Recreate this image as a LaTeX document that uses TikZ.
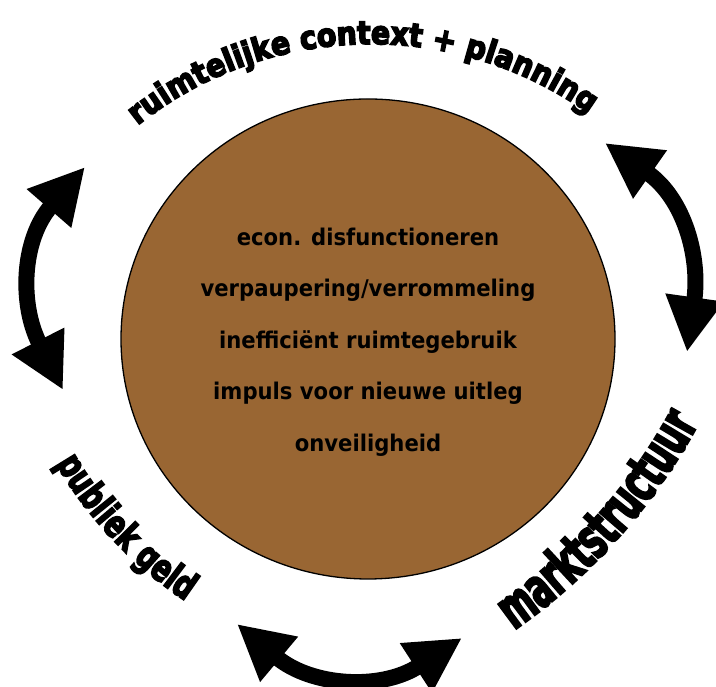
\documentclass[tikz,border=0pt]{standalone}
\usepackage{fontspec}
\usetikzlibrary{arrows.meta, calc, decorations.text, shapes.geometric}

\newfontfamily\innerfont[FakeStretch=0.92]{DejaVu Sans Bold}
\newfontfamily\topfont[FakeStretch=0.88, FakeBold=5]{DejaVu Sans Bold}
\newfontfamily\marktfont[FakeStretch=0.58, FakeBold=3.5]{DejaVu Sans Bold}
\newfontfamily\geldfont[FakeStretch=0.72, FakeBold=4]{DejaVu Sans Bold}
\definecolor{corebrown}{RGB}{153,102,51}

\begin{document}
\begin{tikzpicture}[x=1pt, y=1pt]

% Define styles
\tikzstyle{core}=[ellipse, draw=black, line width=1.3pt, fill=corebrown, minimum width=494pt, minimum height=480pt, inner sep=0pt]
\tikzstyle{problem}=[font=\innerfont\fontsize{23}{23}\selectfont, anchor=mid]
\tikzstyle{cyclearrow}=[line width=16pt, {Triangle[length=55pt, width=55pt]}-{Triangle[length=55pt, width=55pt]}]

\useasboundingbox (0,0) rectangle (716,687);

% Parameters
\def\linegap{51.5}

% Core with the problems
\node[core] (core) at (368,348) {};
\foreach \txt [count=\i] in {econ. disfunctioneren, verpaupering/verrommeling, inefficiënt ruimtegebruik, impuls voor nieuwe uitleg, onveiligheid} {
  \node[problem] (problem\i) at ({368}, {444-\linegap*(\i-1)}) {\txt};
}

% Curved labels
\path[decorate, decoration={text along path, text align=center,
  text={|\topfont\fontsize{32}{32}\selectfont|ruimtelijke context + planning}}]
  ($(371,268)+(134:375pt)$) arc[start angle=134, end angle=49, radius=375pt];
\path[decorate, decoration={text along path, text align=center,
  text={|\marktfont\fontsize{56}{56}\selectfont|marktstructuur}}]
  ($(171,549)+(-62:600pt)$) arc[start angle=-62, end angle=-21.5, radius=600pt];
\path[decorate, decoration={text along path, text align=center,
  text={|\geldfont\fontsize{38}{38}\selectfont|publiek geld}}]
  ($(417,434)+(205:418pt)$) arc[start angle=205, end angle=241.6, radius=418pt];

% Arrow ends
\coordinate (lefttop) at (85,520);
\coordinate (leftbottom) at (63,297);
\coordinate (righttop) at (605,544);
\coordinate (rightbottom) at (687,335);
\coordinate (bottomleft) at (237,63);
\coordinate (bottomright) at (462,49);

% Double arrows
\draw[cyclearrow] (leftbottom) to[out=117, in=229, looseness=1.1] (lefttop);
\draw[cyclearrow] (righttop) to[out=-35, in=82, looseness=1.1] (rightbottom);
\draw[cyclearrow] (bottomleft) to[out=-40, in=213, looseness=1.1] (bottomright);

\end{tikzpicture}
\end{document}
